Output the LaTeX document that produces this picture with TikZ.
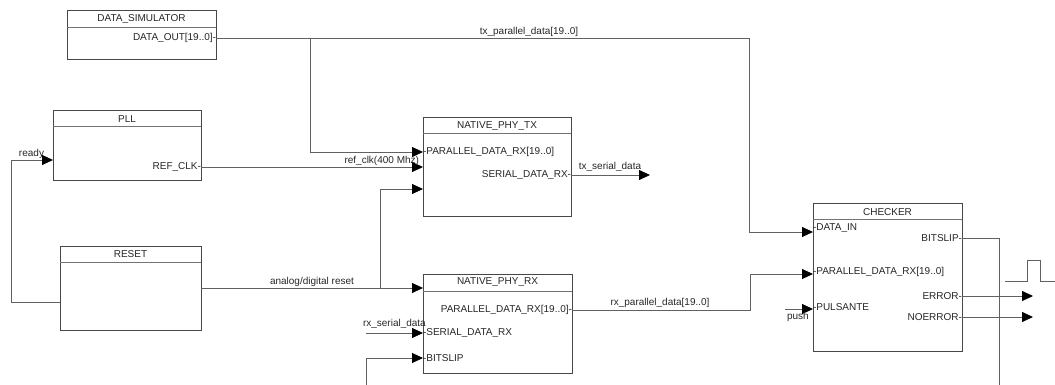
\documentclass[tikz,border=0pt]{standalone}
\usepackage{fontspec}
\setmainfont{Liberation Sans}
\usetikzlibrary{arrows.meta}
\tikzset{
  every node/.style={font=\fontsize{10}{12}\selectfont, inner sep=0pt, outer sep=0pt, text=black!85},
  blk/.style={draw=black!72, line width=0.8pt, fill=white, rectangle, anchor=north west},
  hdr/.style={draw=black!55, line width=0.8pt},
  wire/.style={draw=black!62, line width=0.8pt},
  sig/.style={wire, -{Triangle[length=11pt, width=10pt, color=black, fill=black]}},
  inport/.style={anchor=west},
  outport/.style={anchor=east},
}
\begin{document}
\begin{tikzpicture}[x=1pt, y=-1pt]
\useasboundingbox (0,0) rectangle (1055,385);
\clip (0,0) rectangle (1055,385);

% ---------------- blocks ----------------
\node[blk, minimum width=149pt, minimum height=49pt] (sim) at (67,10) {};
\node (simT) at (sim.north |- 0,19) {DATA\_SIMULATOR};
\draw[hdr] (sim.west |- 0,27) -- (sim.east |- 0,27);
\node[outport] (simOut) at (sim.east |- 0,38) {DATA\_OUT[19..0]-};

\node[blk, minimum width=148pt, minimum height=70pt] (pll) at (53,110) {};
\node (pllT) at (pll.north |- 0,119) {PLL};
\draw[hdr] (pll.west |- 0,126) -- (pll.east |- 0,126);
\node[outport] (pllOut) at (pll.east |- 0,167) {REF\_CLK-};
\coordinate (pllIn) at (pll.west |- 0,160);

\node[blk, minimum width=141pt, minimum height=84pt] (rst) at (60,246) {};
\node (rstT) at (rst.north |- 0,254) {RESET};
\draw[hdr] (rst.west |- 0,262) -- (rst.east |- 0,262);
\coordinate (rstOut) at (rst.east |- 0,288);
\coordinate (rstRdy) at (rst.west |- 0,302);

\node[blk, minimum width=148pt, minimum height=99pt] (tx) at (423,117) {};
\node (txT) at (tx.north |- 0,126) {NATIVE\_PHY\_TX};
\draw[hdr] (tx.west |- 0,133) -- (tx.east |- 0,133);
\node[inport] (txPar) at (tx.west |- 0,152) {-PARALLEL\_DATA\_RX[19..0]};
\coordinate (txClk) at (tx.west |- 0,167);
\coordinate (txRst) at (tx.west |- 0,189);
\node[outport] (txSer) at (tx.east |- 0,175) {SERIAL\_DATA\_RX-};

\node[blk, minimum width=149pt, minimum height=99pt] (rx) at (423,274) {};
\node (rxT) at (rx.north |- 0,282) {NATIVE\_PHY\_RX};
\draw[hdr] (rx.west |- 0,291) -- (rx.east |- 0,291);
\coordinate (rxRst) at (rx.west |- 0,288);
\node[outport] (rxPar) at (rx.east |- 0,310) {PARALLEL\_DATA\_RX[19..0]-};
\node[inport] (rxSer) at (rx.west |- 0,333) {-SERIAL\_DATA\_RX};
\node[inport] (rxBit) at (rx.west |- 0,358) {-BITSLIP};

\node[blk, minimum width=149pt, minimum height=148pt] (chk) at (813,203) {};
\node (chkT) at (chk.north |- 0,212) {CHECKER};
\draw[hdr] (chk.west |- 0,219) -- (chk.east |- 0,219);
\node[inport] (chkData) at (chk.west |- 0,228) {-DATA\_IN};
\coordinate (chkDataIn) at (chk.west |- 0,232);
\node[inport] (chkPar) at (chk.west |- 0,272) {-PARALLEL\_DATA\_RX[19..0]};
\coordinate (chkParIn) at (chk.west |- 0,274);
\node[inport] (chkPush) at (chk.west |- 0,307) {-PULSANTE};
\coordinate (chkPushIn) at (chk.west |- 0,309);
\node[outport] (chkBit) at (chk.east |- 0,238) {BITSLIP-};
\node[outport] (chkErr) at (chk.east |- 0,296) {ERROR-};
\node[outport] (chkNoErr) at (chk.east |- 0,317) {NOERROR-};

% ---------------- free wire ends ----------------
\coordinate (txSerEnd) at (650,175);
\coordinate (rxSerSrc) at (366,333);
\coordinate (pushSrc) at (785,309);
\coordinate (errEnd) at (1033,296);
\coordinate (noErrEnd) at (1033,317);

% ---------------- connectors ----------------
\draw[sig] (simOut.east) -- (749,38) -- (749,232) -- (chkDataIn);
\draw[sig] (310,38) -- (310,152) -- (txPar.west);
\node (lblTxPar) at (529,32) {tx\_parallel\_data[19..0]};

\draw[sig] (pllOut.east) -- (txClk);
\node[anchor=east] (lblClk) at (419,161) {ref\_clk(400 Mhz)};

\draw[sig] (rstRdy) -- (11,302) -- (11,160) -- (pllIn);
\node[anchor=west] (lblRdy) at (19,154) {ready};

\draw[sig] (rstOut) -- (rxRst);
\draw[sig] (380,288) -- (380,189) -- (txRst);
\node (lblRst) at (312,282) {analog/digital reset};

\draw[sig] (txSer.east) -- (txSerEnd);
\node (lblTxSer) at (610,167) {tx\_serial\_data};

\draw[sig] (rxPar.east) -- (750,310) -- (750,274) -- (chkParIn);
\node (lblRxPar) at (660,303) {rx\_parallel\_data[19..0]};

\draw[sig] (rxSerSrc) -- (rxSer.west);
\node[anchor=west] (lblRxSer) at (363,324) {rx\_serial\_data};

\draw[sig] (pushSrc) -- (chkPushIn);
\node[anchor=west] (lblPush) at (787,317) {push};

\draw[sig] (chkBit.east) -- (999,238) -- (999,400) -- (366,400) -- (366,358) -- (rxBit.west);

\draw[sig] (chkErr.east) -- (errEnd);
\draw[sig] (chkNoErr.east) -- (noErrEnd);

% pulse waveform
\draw[wire] (1005,281) -- (1027,281) -- (1027,260) -- (1040,260) -- (1040,281) -- (1055,281);
\end{tikzpicture}
\end{document}
